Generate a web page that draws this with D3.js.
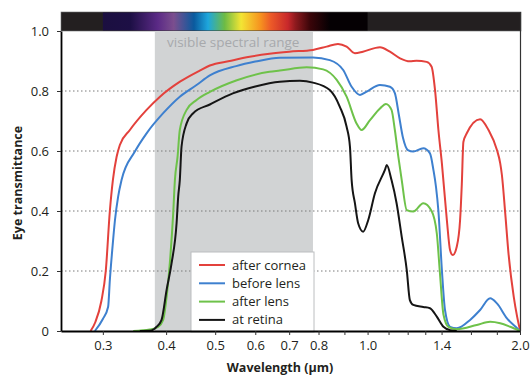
<!DOCTYPE html>
<html>
<head>
<meta charset="utf-8">
<script src="https://cdn.jsdelivr.net/npm/d3@7"></script>
<style>
  body { margin: 0; background: #fff; }
  svg { display: block; font-family: "Open Sans", sans-serif; }
</style>
</head>
<body>
<svg id="chart" width="530" height="378"></svg>
<script>

// Transmittance curves as [wavelength (µm), transmittance]
const afterCornea = [
  [0.2837, 0], [0.290, 0.03], [0.298, 0.10], [0.304, 0.20], [0.3097, 0.40],
  [0.314, 0.503], [0.3193, 0.58], [0.3241, 0.62], [0.3392, 0.67], [0.366, 0.737],
  [0.389, 0.781], [0.426, 0.831], [0.466, 0.868], [0.488, 0.885], [0.534, 0.90],
  [0.585, 0.914], [0.64, 0.924], [0.70, 0.931], [0.78, 0.937], [0.83, 0.948],
  [0.874, 0.957], [0.909, 0.948], [0.944, 0.926], [0.979, 0.931], [1.058, 0.946],
  [1.107, 0.931], [1.159, 0.909], [1.212, 0.899], [1.249, 0.901], [1.308, 0.897],
  [1.338, 0.881], [1.359, 0.803], [1.380, 0.67], [1.402, 0.559], [1.434, 0.37],
  [1.455, 0.27], [1.473, 0.253], [1.50, 0.281], [1.523, 0.37], [1.535, 0.49],
  [1.546, 0.63], [1.570, 0.659], [1.668, 0.706], [1.733, 0.67], [1.801, 0.603],
  [1.828, 0.559], [1.842, 0.52], [1.870, 0.393], [1.898, 0.259], [1.944, 0.114],
  [1.974, 0.048], [2.0, 0.003]
];

const beforeLens = [
  [0.2893, 0], [0.300, 0.04], [0.3073, 0.081], [0.3097, 0.17], [0.3135, 0.281],
  [0.317, 0.37], [0.3216, 0.448], [0.3266, 0.503], [0.347, 0.598], [0.366, 0.659],
  [0.3947, 0.726], [0.4257, 0.781], [0.4594, 0.82], [0.488, 0.852], [0.55, 0.883],
  [0.60, 0.898], [0.671, 0.911], [0.78, 0.912], [0.842, 0.903], [0.895, 0.87],
  [0.930, 0.814], [0.966, 0.787], [0.996, 0.798], [1.058, 0.82], [1.107, 0.814],
  [1.132, 0.793], [1.153, 0.72], [1.175, 0.643], [1.201, 0.603], [1.231, 0.598],
  [1.288, 0.609], [1.328, 0.592], [1.349, 0.537], [1.365, 0.48], [1.380, 0.40],
  [1.402, 0.203], [1.422, 0.07], [1.455, 0.014], [1.500, 0.009], [1.594, 0.037],
  [1.668, 0.07], [1.746, 0.109], [1.801, 0.092], [1.885, 0.042], [1.974, 0.009],
  [2.0, 0]
];

const afterLens = [
  [0.3444, 0], [0.3715, 0.005], [0.3858, 0.014], [0.3947, 0.037], [0.4009, 0.114],
  [0.4068, 0.226], [0.4131, 0.392], [0.4163, 0.503], [0.4214, 0.581], [0.4257, 0.67],
  [0.4391, 0.737], [0.4594, 0.77], [0.488, 0.797], [0.55, 0.835], [0.64, 0.864],
  [0.671, 0.868], [0.758, 0.879], [0.817, 0.872], [0.869, 0.837], [0.909, 0.781],
  [0.951, 0.692], [0.973, 0.67], [1.011, 0.703], [1.058, 0.742], [1.087, 0.757],
  [1.115, 0.737], [1.132, 0.67], [1.150, 0.581], [1.168, 0.503], [1.195, 0.403],
  [1.231, 0.398], [1.288, 0.426], [1.338, 0.40], [1.370, 0.325], [1.390, 0.19],
  [1.412, 0.055], [1.444, 0.014], [1.500, 0.006], [1.643, 0.02], [1.746, 0.031],
  [1.828, 0.026], [1.913, 0.014], [2.0, 0]
];

const atRetina = [
  [0.355, 0], [0.3744, 0.002], [0.383, 0.014], [0.3918, 0.037], [0.4009, 0.137],
  [0.4101, 0.226], [0.4195, 0.359], [0.4226, 0.448], [0.4257, 0.503], [0.4291, 0.615],
  [0.4391, 0.692], [0.4524, 0.726], [0.488, 0.755], [0.5418, 0.792], [0.60, 0.815],
  [0.671, 0.831], [0.735, 0.834], [0.78, 0.828], [0.842, 0.803], [0.881, 0.748],
  [0.909, 0.681], [0.923, 0.614], [0.930, 0.503], [0.944, 0.426], [0.958, 0.359],
  [0.980, 0.331], [1.003, 0.37], [1.034, 0.459], [1.082, 0.537], [1.091, 0.553],
  [1.115, 0.503], [1.141, 0.426], [1.168, 0.314], [1.195, 0.203], [1.212, 0.103],
  [1.231, 0.087], [1.288, 0.08], [1.328, 0.076], [1.370, 0.048], [1.412, 0.014],
  [1.455, 0.003], [1.50, 0]
];

const seriesNames = ["after cornea", "before lens", "after lens", "at retina"];
const seriesColors = ["#e3413c", "#3e80cf", "#6ec24a", "#151515"];

// Axis ticks:
const wavelengthTicks = [0.3, 0.4, 0.5, 0.6, 0.7, 0.8, 0.9, 1.0, 1.1, 1.2, 1.3, 1.4, 1.6, 1.8, 2.0];
const wavelengthLabels = [0.3, 0.4, 0.5, 0.6, 0.7, 0.8, 1.0, 1.4, 2.0];
const transmittanceTicks = [0, 0.2, 0.4, 0.6, 0.8, 1.0];

// Visible range band and the spectrum strip on top
const visibleRange = [0.38, 0.78];
const spectrumRange = [0.3, 1.0];
const spectrumStops = [
  [0.30, "#1b0f40"], [0.34, "#1d0f45"], [0.385, "#5b2a86"], [0.414, "#7b4e8e"],
  [0.454, "#0a5a9e"], [0.484, "#1ea7dd"], [0.522, "#6dbb45"], [0.5625, "#f3e534"],
  [0.615, "#f6911f"], [0.644, "#ec5a28"], [0.696, "#c8282b"], [0.72, "#8e1a1e"],
  [0.77, "#3a0509"], [0.842, "#050003"], [1.0, "#050003"]
];


const svg = d3.select("#chart");

const PLOT_LEFT = 61, PLOT_RIGHT = 520, PLOT_TOP = 31, PLOT_BOTTOM = 331;
const BAR_TOP = 12;

let x = d3.scaleLog().domain([0.248, 2.0]).range([PLOT_LEFT, PLOT_RIGHT]);
let y = d3.scaleLinear().domain([0, 1]).range([PLOT_BOTTOM, PLOT_TOP]);

// spectrum gradient, positioned in user space so it follows the x scale
let grad = svg.append("defs").append("linearGradient")
    .attr("id", "spectrum")
    .attr("gradientUnits", "userSpaceOnUse")
    .attr("x1", x(spectrumRange[0])).attr("x2", x(spectrumRange[1]))
    .attr("y1", 0).attr("y2", 0);
grad.selectAll("stop")
    .data(spectrumStops)
    .enter()
    .append("stop")
        .attr("offset", d => (x(d[0]) - x(spectrumRange[0])) / (x(spectrumRange[1]) - x(spectrumRange[0])))
        .attr("stop-color", d => d[1]);

svg.append("rect")
    .attr("x", PLOT_LEFT).attr("y", BAR_TOP)
    .attr("width", PLOT_RIGHT - PLOT_LEFT + 1).attr("height", PLOT_TOP - BAR_TOP)
    .attr("fill", "#231f20")
    .attr("stroke", "#6d6e71").attr("stroke-width", 0.6);
svg.append("rect")
    .attr("x", x(spectrumRange[0])).attr("y", BAR_TOP + 0.5)
    .attr("width", x(spectrumRange[1]) - x(spectrumRange[0])).attr("height", PLOT_TOP - BAR_TOP - 1)
    .attr("fill", "url(#spectrum)");

// grey band for the visible range
svg.append("rect")
    .attr("x", x(visibleRange[0])).attr("y", PLOT_TOP)
    .attr("width", x(visibleRange[1]) - x(visibleRange[0]))
    .attr("height", PLOT_BOTTOM - PLOT_TOP)
    .attr("fill", "#d1d3d4");

svg.append("text")
    .attr("x", 167).attr("y", 47)
    .attr("font-size", 13.5)
    .attr("fill", "#a7a9ac")
    .text("visible spectral range");

// dotted grid lines
svg.append("g")
    .selectAll("line")
    .data(transmittanceTicks.filter(d => d > 0 && d < 1))
    .enter()
    .append("line")
        .attr("x1", PLOT_LEFT).attr("x2", PLOT_RIGHT)
        .attr("y1", d => y(d)).attr("y2", d => y(d))
        .attr("stroke", "#7a7a7a")
        .attr("stroke-width", 1)
        .attr("stroke-dasharray", "1.5,2.5");

// curves
let line = d3.line()
    .x(d => x(d[0]))
    .y(d => y(d[1]))
    .curve(d3.curveMonotoneX);

let allSeries = [afterCornea, beforeLens, afterLens, atRetina];
svg.append("g")
    .selectAll("path")
    .data(allSeries)
    .enter()
    .append("path")
        .attr("d", line)
        .attr("fill", "none")
        .attr("stroke", (d, i) => seriesColors[i])
        .attr("stroke-width", 2)
        .attr("stroke-linejoin", "round");

// legend
let legend = svg.append("g").attr("transform", "translate(191,252)");
legend.append("rect")
    .attr("width", 123).attr("height", 80)
    .attr("fill", "#fff")
    .attr("stroke", "#bcbec0").attr("stroke-width", 1);
let items = legend.selectAll("g.item")
    .data(seriesNames)
    .enter()
    .append("g")
        .attr("class", "item")
        .attr("transform", (d, i) => "translate(0," + (13 + i * 18.3) + ")");
items.append("line")
    .attr("x1", 8).attr("x2", 34)
    .attr("stroke", (d, i) => seriesColors[i])
    .attr("stroke-width", 2);
items.append("text")
    .attr("x", 41).attr("dy", "0.35em")
    .attr("font-size", 13)
    .attr("fill", "#231f20")
    .text(d => d);

// axes
let fmt = d3.format(".1f");
let xAxis = svg.append("g")
    .attr("transform", "translate(0," + PLOT_BOTTOM + ")")
    .call(d3.axisBottom(x)
        .tickValues(wavelengthTicks)
        .tickSize(4)
        .tickSizeOuter(0)
        .tickPadding(6)
        .tickFormat(d => wavelengthLabels.includes(d) ? fmt(d) : ""));
xAxis.select(".domain").attr("stroke", "#000").attr("stroke-width", 1.8);
xAxis.selectAll(".tick line").attr("stroke", "#333");
xAxis.selectAll("text").attr("font-size", 13).attr("fill", "#231f20")
    .attr("font-family", "Open Sans, sans-serif");

let yAxis = svg.append("g")
    .attr("transform", "translate(" + PLOT_LEFT + ",0)")
    .call(d3.axisLeft(y)
        .tickValues(transmittanceTicks)
        .tickSize(4)
        .tickSizeOuter(0)
        .tickPadding(8)
        .tickFormat(d => d === 0 ? "0" : fmt(d)));
yAxis.select(".domain").attr("stroke", "#000").attr("stroke-width", 1.8);
yAxis.selectAll(".tick line").attr("stroke", "#333");
yAxis.selectAll("text").attr("font-size", 13).attr("fill", "#231f20")
    .attr("font-family", "Open Sans, sans-serif");

// right frame edge
svg.append("line")
    .attr("x1", PLOT_RIGHT + 0.5).attr("x2", PLOT_RIGHT + 0.5)
    .attr("y1", BAR_TOP).attr("y2", PLOT_BOTTOM)
    .attr("stroke", "#333").attr("stroke-width", 1.2);

// axis titles
svg.append("text")
    .attr("x", 280).attr("y", 372)
    .attr("text-anchor", "middle")
    .attr("font-size", 12.5).attr("font-weight", "bold")
    .attr("fill", "#231f20")
    .text("Wavelength (µm)");

svg.append("text")
    .attr("transform", "translate(22,183) rotate(-90)")
    .attr("text-anchor", "middle")
    .attr("font-size", 12.5).attr("font-weight", "bold")
    .attr("fill", "#231f20")
    .text("Eye transmittance");

</script>
</body>
</html>
